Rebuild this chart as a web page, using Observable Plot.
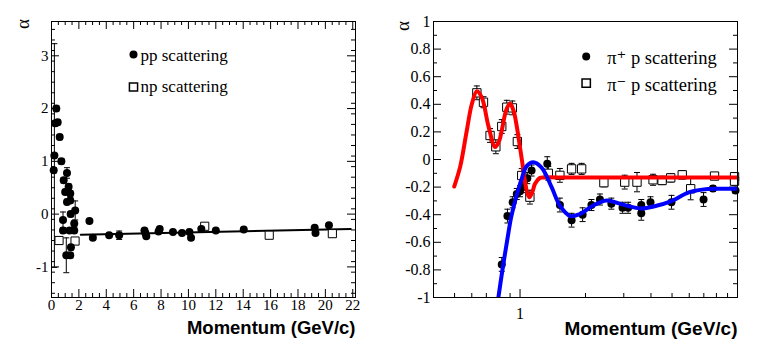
<!DOCTYPE html>
<html><head><meta charset="utf-8">
<script src="https://cdn.jsdelivr.net/npm/d3@7"></script>
<script src="https://cdn.jsdelivr.net/npm/@observablehq/plot@0.6"></script>
<style>
html,body{margin:0;padding:0;background:#fff;}
#wrap{display:flex;width:763px;height:357px;overflow:hidden;}
#wrap svg{display:block;flex:none;}
</style></head><body><div id="wrap"></div>
<script>
// ---------- Left panel: pp / np scattering ----------
const ppMomentum = [0.16,0.21,0.28,0.35,0.45,0.60,0.72,0.89,1.13,1.00,1.25,1.37,1.13,1.37,1.73,1.40,0.84,0.84,1.32,1.66,1.66,1.42,1.08,1.37,2.77,3.02,4.21,4.94,6.79,6.85,6.92,7.82,7.90,8.87,9.53,10.07,10.19,10.94,12.00,14.04,19.22,19.28,20.26];
const ppAlpha = [0.83,1.11,1.72,2.00,1.74,1.46,1.00,0.64,0.78,0.42,0.52,0.39,0.23,0.26,0.07,0.00,-0.11,-0.31,-0.31,-0.18,-0.31,-0.63,-0.78,-0.78,-0.13,-0.45,-0.40,-0.40,-0.31,-0.36,-0.42,-0.33,-0.28,-0.34,-0.36,-0.34,-0.45,-0.28,-0.31,-0.29,-0.26,-0.36,-0.21];
const ppError = [0.05,2.12,0.05,0.05,0.05,0.05,0.05,0.05,0.10,0.05,0.05,0.05,0.05,0.05,0.18,0.05,0.15,0.05,0.05,0.05,0.05,0.05,0.33,0.05,0.03,0.03,0.03,0.08,0.03,0.03,0.03,0.03,0.03,0.03,0.03,0.03,0.03,0.03,0.03,0.03,0.03,0.03,0.03];
const npMomentum = [0.55,1.72,11.19,15.90,20.51];
const npAlpha = [-0.50,-0.51,-0.23,-0.40,-0.37];
const npError = [0.05,0.05,0.03,0.03,0.03];
const ppFitMomentum = [2.14,21.85];
const ppFitAlpha = [-0.39,-0.28];
const leftXTickLabels = [0,2,4,6,8,10,12,14,16,18,20,22];
const leftYTickLabels = [-1,0,1,2,3];

// ---------- Right panel: pi+ p / pi- p scattering ----------
const pipMomentum = [0.824,0.875,0.925,0.966,1.00,1.036,1.08,1.13,1.334,1.525,1.726,1.94,2.13,2.33,2.63,2.96,3.14,3.61,3.61,3.98,4.97,6.98,7.71,9.79];
const pipAlpha = [-0.76,-0.41,-0.31,-0.25,-0.23,-0.20,-0.135,-0.08,-0.03,-0.33,-0.44,-0.40,-0.33,-0.29,-0.32,-0.35,-0.35,-0.33,-0.39,-0.31,-0.31,-0.29,-0.21,-0.225];
const pipError = [0.05,0.05,0.04,0.04,0.04,0.04,0.04,0.04,0.05,0.05,0.05,0.05,0.04,0.04,0.04,0.04,0.04,0.04,0.05,0.04,0.05,0.05,0.02,0.02];
const pimMomentum = [0.633,0.679,0.728,0.774,0.824,0.869,0.922,0.972,1.018,1.11,1.349,1.525,1.726,1.92,2.43,3.03,3.45,4.09,4.50,4.93,5.57,6.09,7.84,9.69,9.69];
const pimAlpha = [0.483,0.415,0.174,0.092,0.239,0.379,0.374,0.13,-0.116,-0.273,-0.10,-0.115,-0.068,-0.068,-0.168,-0.164,-0.164,-0.147,-0.152,-0.133,-0.111,-0.212,-0.12,-0.125,-0.157];
const pimError = [0.05,0.04,0.05,0.05,0.05,0.05,0.05,0.05,0.05,0.05,0.05,0.05,0.04,0.04,0.03,0.05,0.07,0.04,0.03,0.03,0.03,0.08,0.02,0.03,0.03];
const pimFitMomentum = [0.498,0.531,0.569,0.60,0.633,0.667,0.716,0.768,0.80,0.824,0.865,0.90,0.935,0.966,1.018,1.073,1.103,1.14,1.172,1.235,1.30,1.6,3,10];
const pimFitAlpha = [-0.196,-0.05,0.21,0.40,0.495,0.45,0.24,0.09,0.13,0.21,0.36,0.405,0.35,0.24,0.005,-0.225,-0.273,-0.235,-0.176,-0.133,-0.13,-0.13,-0.13,-0.13];
const pipFitMomentum = [0.79,0.83,0.875,0.91,0.949,0.985,1.018,1.07,1.15,1.258,1.397,1.525,1.70,1.885,2.17,2.5,2.87,3.2,3.6,4.24,4.9,6.02,7.3,8.5,10];
const pipFitAlpha = [-1.03,-0.80,-0.575,-0.42,-0.30,-0.21,-0.14,-0.05,-0.02,-0.06,-0.20,-0.335,-0.41,-0.395,-0.333,-0.297,-0.32,-0.34,-0.355,-0.335,-0.305,-0.237,-0.214,-0.212,-0.212];
const rightXTickLabels = [1];
const rightXMinorTicks = [0.5,0.6,0.7,0.8,0.9,2,3,4,5,6,7,8,9];
const rightYTickLabels = [-1,-0.8,-0.6,-0.4,-0.2,0,0.2,0.4,0.6,0.8,1];

const legendLeft = ["pp scattering", "np scattering"];
const legendRight = ["\u03c0\u207a p scattering", "\u03c0\u207b p scattering"];
const xTitle = "Momentum (GeV/c)";
const yTitle = "\u03b1";

// ---------- helpers ----------
const serif = "'Liberation Serif','DejaVu Serif','Times New Roman',serif";
const sans = "'Liberation Sans',Arial,sans-serif";
const rows = (xs, ys, es) => xs.map((x, i) => ({x, y: ys[i], e: es ? es[i] : 0}));
const cap = {draw(ctx) { ctx.moveTo(-3, 0); ctx.lineTo(3, 0); }};
function errorBars(data) {
  return [
    Plot.ruleX(data, {x: "x", y1: d => d.y - d.e, y2: d => d.y + d.e, stroke: "black", strokeWidth: 1, clip: true}),
    Plot.dot(data, {x: "x", y: d => d.y + d.e, symbol: cap, r: 3, stroke: "black", fill: "none", strokeWidth: 1, clip: true}),
    Plot.dot(data, {x: "x", y: d => d.y - d.e, symbol: cap, r: 3, stroke: "black", fill: "none", strokeWidth: 1, clip: true})
  ];
}

// ---------- Left plot ----------
const LW = 381, LH = 357, LML = 51, LMR = 26, LMT = 21, LMB = 60;
const lfw = LW - LML - LMR, lfh = LH - LMT - LMB;
const leftXMinor = d3.range(0, 22.01, 0.5).filter(v => v % 2 !== 0);
const leftYMinor = d3.range(-15, 37, 2).map(v => v / 10).filter(v => Math.abs(v - Math.round(v)) > 1e-6);
const ppData = rows(ppMomentum, ppAlpha, ppError);
const npData = rows(npMomentum, npAlpha, npError);

const left = Plot.plot({
  width: LW, height: LH, marginLeft: LML, marginRight: LMR, marginTop: LMT, marginBottom: LMB,
  x: {domain: [0, 22.2], axis: null},
  y: {domain: [-1.58, 3.65], axis: null},
  style: {background: "white", overflow: "visible"},
  marks: [
    Plot.ruleX(leftXTickLabels, {x: d => d, insetTop: lfh - 8, stroke: "black"}),
    Plot.ruleX(leftXMinor, {x: d => d, insetTop: lfh - 4, stroke: "black"}),
    Plot.ruleX(leftXTickLabels, {x: d => d, insetBottom: lfh - 8, stroke: "black"}),
    Plot.ruleX(leftXMinor, {x: d => d, insetBottom: lfh - 4, stroke: "black"}),
    Plot.ruleY(leftYTickLabels, {y: d => d, insetRight: lfw - 8, stroke: "black"}),
    Plot.ruleY(leftYMinor, {y: d => d, insetRight: lfw - 4, stroke: "black"}),
    Plot.ruleY(leftYTickLabels, {y: d => d, insetLeft: lfw - 8, stroke: "black"}),
    Plot.ruleY(leftYMinor, {y: d => d, insetLeft: lfw - 4, stroke: "black"}),
    ...errorBars(ppData),
    ...errorBars(npData),
    Plot.line(rows(ppFitMomentum, ppFitAlpha), {x: "x", y: "y", stroke: "black", strokeWidth: 2}),
    Plot.dot(npData, {x: "x", y: "y", symbol: "square", r: 4.6, stroke: "black", fill: "white", strokeWidth: 1}),
    Plot.dot(ppData, {x: "x", y: "y", r: 4, fill: "black", stroke: "none"}),
    Plot.frame({stroke: "black", strokeWidth: 1}),
    Plot.text(leftXTickLabels, {x: d => d, text: d => `${d}`, frameAnchor: "bottom", dy: 8, lineAnchor: "middle", fontFamily: serif, fontSize: 15, fill: "black"}),
    Plot.text(leftYTickLabels, {y: d => d, text: d => `${d}`, frameAnchor: "left", dx: -3, textAnchor: "end", lineAnchor: "middle", fontFamily: serif, fontSize: 15, fill: "black"}),
    Plot.dot([legendLeft[0]], {frameAnchor: "top-left", dx: 82, dy: 33, r: 4, fill: "black"}),
    Plot.dot([legendLeft[1]], {frameAnchor: "top-left", dx: 82, dy: 65.5, symbol: "square", r: 4.6, stroke: "black", fill: "white"}),
    Plot.text([legendLeft[0]], {frameAnchor: "top-left", text: d => d, dx: 89, dy: 39, textAnchor: "start", lineAnchor: "bottom", fontFamily: serif, fontSize: 17, fill: "black"}),
    Plot.text([legendLeft[1]], {frameAnchor: "top-left", text: d => d, dx: 89, dy: 70.7, textAnchor: "start", lineAnchor: "bottom", fontFamily: serif, fontSize: 17, fill: "black"}),
    Plot.text([xTitle], {frameAnchor: "bottom-right", text: d => d, dy: 36, textAnchor: "end", lineAnchor: "bottom", fontFamily: sans, fontWeight: "bold", fontSize: 18.5, fill: "black"}),
    Plot.text([yTitle], {frameAnchor: "top-left", text: d => d, dx: -29, dy: 2.5, rotate: -90, textAnchor: "middle", lineAnchor: "middle", fontFamily: serif, fontSize: 19, fill: "black"})
  ]
});

// ---------- Right plot ----------
const RW = 382, RH = 357, RML = 52, RMR = 26, RMT = 21, RMB = 60;
const rfw = RW - RML - RMR, rfh = RH - RMT - RMB;
const rightYMinor = d3.range(-9, 10, 2).map(v => v / 10);
const pipData = rows(pipMomentum, pipAlpha, pipError);
const pimData = rows(pimMomentum, pimAlpha, pimError);

const right = Plot.plot({
  width: RW, height: RH, marginLeft: RML, marginRight: RMR, marginTop: RMT, marginBottom: RMB,
  x: {type: "log", domain: [0.4, 10], axis: null},
  y: {domain: [-1, 1], axis: null},
  style: {background: "white", overflow: "visible"},
  marks: [
    Plot.ruleX(rightXTickLabels, {x: d => d, insetTop: rfh - 8, stroke: "black"}),
    Plot.ruleX(rightXMinorTicks, {x: d => d, insetTop: rfh - 4, stroke: "black"}),
    Plot.ruleY(rightYTickLabels, {y: d => d, insetRight: rfw - 8, stroke: "black"}),
    Plot.ruleY(rightYMinor, {y: d => d, insetRight: rfw - 4, stroke: "black"}),
    Plot.ruleY(rightYTickLabels, {y: d => d, insetLeft: rfw - 8, stroke: "black"}),
    Plot.ruleY(rightYMinor, {y: d => d, insetLeft: rfw - 4, stroke: "black"}),
    ...errorBars(pipData),
    ...errorBars(pimData),
    Plot.dot(pimData, {x: "x", y: "y", symbol: "square", r: 4.7, stroke: "black", fill: "white", strokeWidth: 1}),
    Plot.dot(pipData, {x: "x", y: "y", r: 4, fill: "black", stroke: "none"}),
    Plot.line(rows(pimFitMomentum, pimFitAlpha), {x: "x", y: "y", stroke: "#ff0000", strokeWidth: 4, curve: "catmull-rom", clip: true}),
    Plot.line(rows(pipFitMomentum, pipFitAlpha), {x: "x", y: "y", stroke: "#0000ff", strokeWidth: 4, curve: "catmull-rom", clip: true}),
    Plot.frame({stroke: "black", strokeWidth: 1}),
    Plot.text(rightXTickLabels, {x: d => d, text: d => `${d}`, frameAnchor: "bottom", dy: 16, lineAnchor: "middle", fontFamily: serif, fontSize: 16, fill: "black"}),
    Plot.text(rightYTickLabels, {y: d => d, text: d => `${d}`, frameAnchor: "left", dx: -3, textAnchor: "end", lineAnchor: "middle", fontFamily: serif, fontSize: 16, fill: "black"}),
    Plot.dot([legendRight[0]], {frameAnchor: "top-left", dx: 152.7, dy: 35, r: 4, fill: "black"}),
    Plot.dot([legendRight[1]], {frameAnchor: "top-left", dx: 152.7, dy: 61.7, symbol: "square", r: 4.7, stroke: "black", fill: "white"}),
    Plot.text([legendRight[0]], {frameAnchor: "top-left", text: d => d, dx: 173.7, dy: 42.3, textAnchor: "start", lineAnchor: "bottom", fontFamily: serif, fontSize: 18.5, fill: "black"}),
    Plot.text([legendRight[1]], {frameAnchor: "top-left", text: d => d, dx: 173.7, dy: 69, textAnchor: "start", lineAnchor: "bottom", fontFamily: serif, fontSize: 18.5, fill: "black"}),
    Plot.text([xTitle], {frameAnchor: "bottom-right", text: d => d, dy: 37, textAnchor: "end", lineAnchor: "bottom", fontFamily: sans, fontWeight: "bold", fontSize: 19, fill: "black"}),
    Plot.text([yTitle], {frameAnchor: "top-left", text: d => d, dx: -30.5, dy: 4.5, rotate: -90, textAnchor: "middle", lineAnchor: "middle", fontFamily: serif, fontSize: 19, fill: "black"})
  ]
});

const wrap = document.getElementById("wrap");
wrap.appendChild(left);
wrap.appendChild(right);
</script></body></html>
